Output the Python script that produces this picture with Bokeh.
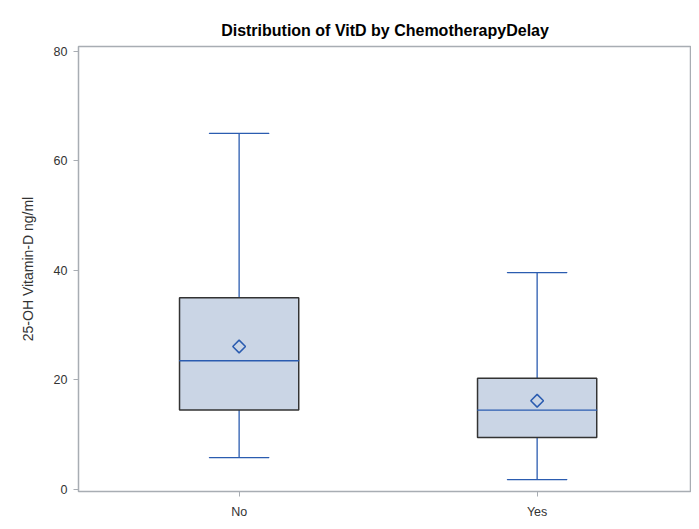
import math
from bokeh.plotting import figure
from bokeh.models import Range1d, ColumnDataSource, FixedTicker
from bokeh.embed import file_html
from bokeh.resources import INLINE

# Data
categories = ["No", "Yes"]
whisker_low = [5.8, 1.8]
q1 = [14.5, 9.5]
median = [23.5, 14.5]
q3 = [35.0, 20.3]
whisker_high = [65.0, 39.6]
mean = [26.1, 16.2]
y_ticks = [0, 20, 40, 60, 80]

BOX_FILL = "#CAD5E5"
BLUE = "#2B5CB0"
OUTLINE = "#333333"
FRAME = "#A8ADB3"
FONT = "Liberation Sans"

xpos = list(range(len(categories)))
src = ColumnDataSource(dict(x=xpos, lo=whisker_low, q1=q1, med=median,
                            q3=q3, hi=whisker_high, mean=mean))

p = figure(width=691, height=521, output_backend="svg", toolbar_location=None,
           x_range=Range1d(-0.539, 1.518),
           y_range=Range1d(-0.365, 80.86),
           title="Distribution of VitD by ChemotherapyDelay",
           min_border_left=78, min_border_right=0, min_border_top=46, min_border_bottom=30)

p.title.align = "center"
p.title.text_font = FONT
p.title.text_font_size = "16px"
p.title.text_font_style = "bold"
p.title.text_color = "#000000"
p.title.standoff = 16

p.xgrid.visible = False
p.ygrid.visible = False
p.outline_line_color = FRAME
p.outline_line_width = 1.5
p.background_fill_color = "#FFFFFF"

# whiskers
p.segment(x0="x", y0="q3", x1="x", y1="hi", source=src, line_color=BLUE, line_width=1.3)
p.segment(x0="x", y0="lo", x1="x", y1="q1", source=src, line_color=BLUE, line_width=1.3)
# caps
p.rect(x="x", y="hi", width=0.2, height=0.0001, source=src, line_color=BLUE, line_width=1.3, fill_alpha=0)
p.rect(x="x", y="lo", width=0.2, height=0.0001, source=src, line_color=BLUE, line_width=1.3, fill_alpha=0)
# box
p.vbar(x="x", bottom="q1", top="q3", width=0.4, source=src,
       fill_color=BOX_FILL, line_color=OUTLINE, line_width=1.5)
# median
p.rect(x="x", y="med", width=0.4, height=0.0001, source=src, line_color=BLUE, line_width=1.3, fill_alpha=0)
# mean
p.scatter(x="x", y="mean", source=src, marker="square", size=9, angle=math.pi / 4,
          fill_alpha=0, line_color=BLUE, line_width=1.5)

for ax in (p.xaxis[0], p.yaxis[0]):
    ax.axis_line_color = FRAME
    ax.major_tick_line_color = FRAME
    ax.minor_tick_line_color = None
    ax.major_tick_in = 0
    ax.major_tick_out = 5
    ax.major_label_text_font = FONT
    ax.major_label_text_font_size = "12.5px"
    ax.major_label_text_color = "#333333"

p.xaxis[0].ticker = FixedTicker(ticks=xpos)
p.xaxis[0].major_label_overrides = {i: c for i, c in zip(xpos, categories)}
p.yaxis[0].ticker = FixedTicker(ticks=y_ticks)
p.yaxis[0].axis_label = "25-OH Vitamin-D ng/ml"
p.yaxis[0].axis_label_text_font = FONT
p.yaxis[0].axis_label_text_font_size = "14px"
p.yaxis[0].axis_label_text_font_style = "normal"
p.yaxis[0].axis_label_text_color = "#333333"
p.yaxis[0].axis_label_standoff = 15
p.yaxis[0].major_label_standoff = 6
p.xaxis[0].major_label_standoff = 8

open("out.html", "w").write(file_html(p, INLINE))
